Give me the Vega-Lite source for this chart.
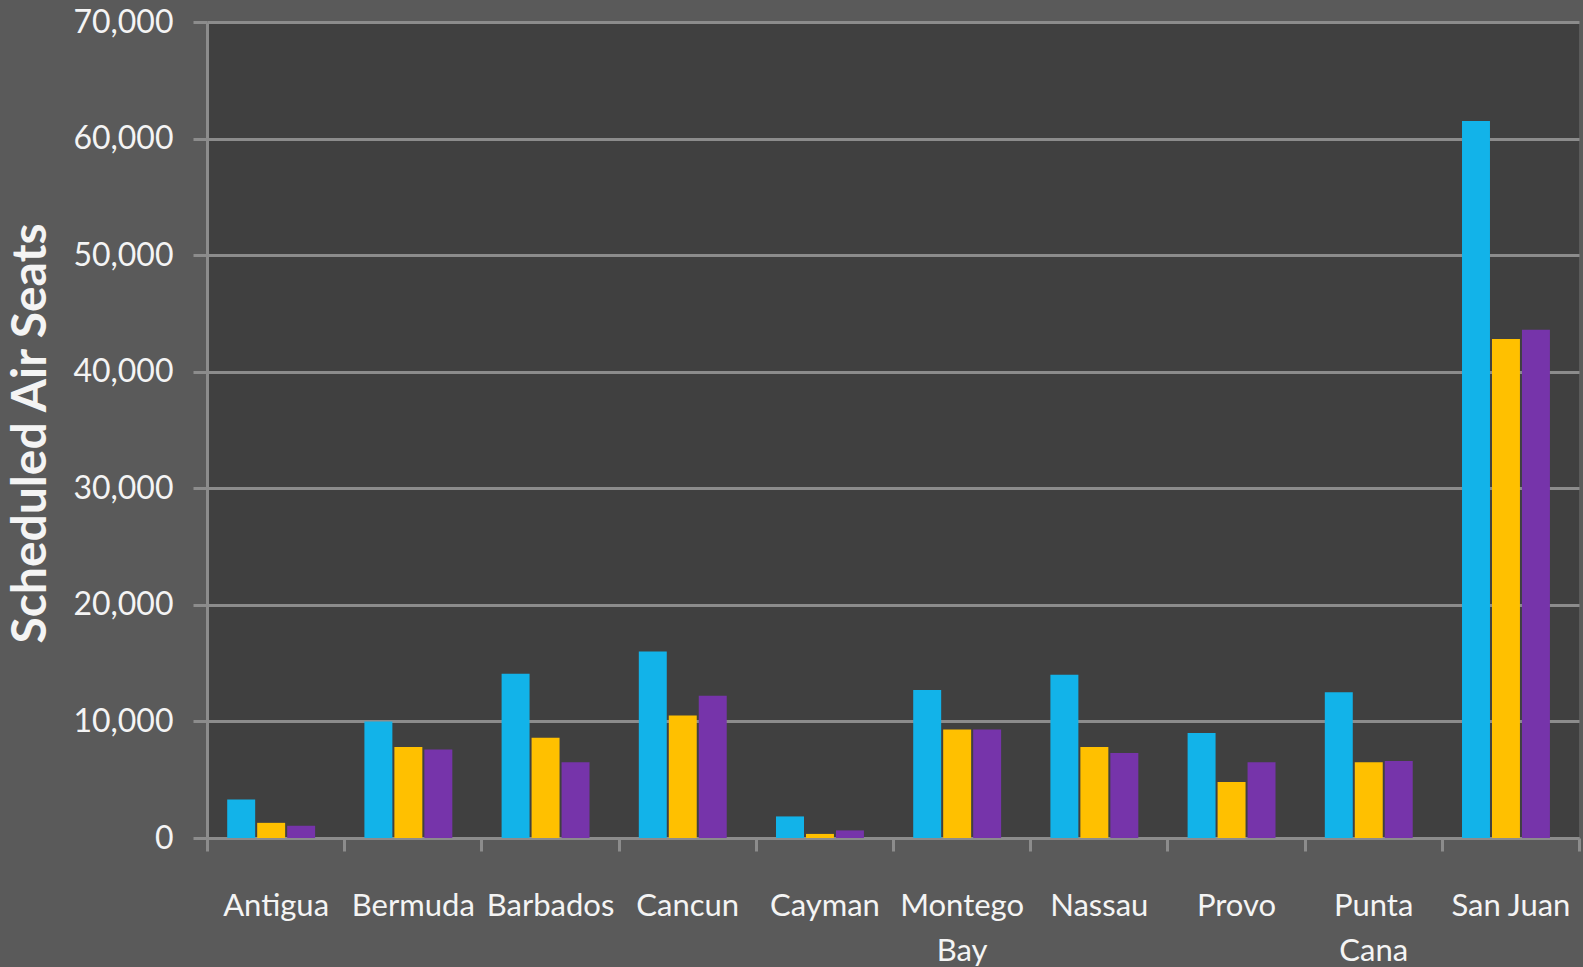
{
  "$schema": "https://vega.github.io/schema/vega-lite/v6.json",
  "width": 1372,
  "height": 816,
  "autosize": {"type": "none"},
  "padding": {"left": 207, "top": 22, "right": 4, "bottom": 129},
  "background": "#5a5a5a",
  "data": {
    "values": [
      {"city": "Antigua", "series": "Series 1", "seats": 3300},
      {"city": "Antigua", "series": "Series 2", "seats": 1300},
      {"city": "Antigua", "series": "Series 3", "seats": 1050},
      {"city": "Bermuda", "series": "Series 1", "seats": 10000},
      {"city": "Bermuda", "series": "Series 2", "seats": 7800},
      {"city": "Bermuda", "series": "Series 3", "seats": 7600},
      {"city": "Barbados", "series": "Series 1", "seats": 14100},
      {"city": "Barbados", "series": "Series 2", "seats": 8600},
      {"city": "Barbados", "series": "Series 3", "seats": 6500},
      {"city": "Cancun", "series": "Series 1", "seats": 16000},
      {"city": "Cancun", "series": "Series 2", "seats": 10500},
      {"city": "Cancun", "series": "Series 3", "seats": 12200},
      {"city": "Cayman", "series": "Series 1", "seats": 1850},
      {"city": "Cayman", "series": "Series 2", "seats": 350},
      {"city": "Cayman", "series": "Series 3", "seats": 650},
      {"city": "Montego Bay", "series": "Series 1", "seats": 12700},
      {"city": "Montego Bay", "series": "Series 2", "seats": 9300},
      {"city": "Montego Bay", "series": "Series 3", "seats": 9300},
      {"city": "Nassau", "series": "Series 1", "seats": 14000},
      {"city": "Nassau", "series": "Series 2", "seats": 7800},
      {"city": "Nassau", "series": "Series 3", "seats": 7300},
      {"city": "Provo", "series": "Series 1", "seats": 9000},
      {"city": "Provo", "series": "Series 2", "seats": 4800},
      {"city": "Provo", "series": "Series 3", "seats": 6500},
      {"city": "Punta Cana", "series": "Series 1", "seats": 12500},
      {"city": "Punta Cana", "series": "Series 2", "seats": 6500},
      {"city": "Punta Cana", "series": "Series 3", "seats": 6600},
      {"city": "San Juan", "series": "Series 1", "seats": 61500},
      {"city": "San Juan", "series": "Series 2", "seats": 42800},
      {"city": "San Juan", "series": "Series 3", "seats": 43600}
    ]
  },
  "config": {
    "view": {"fill": "#404040", "stroke": null},
    "font": "Lato"
  },
  "mark": {"type": "bar"},
  "encoding": {
    "x": {
      "field": "city",
      "type": "nominal",
      "sort": null,
      "scale": {"paddingInner": 0, "paddingOuter": 0},
      "axis": {
        "title": null,
        "labelAngle": 0,
        "labelFont": "Lato",
        "labelFontSize": 31,
        "labelColor": "#f4f4f4",
        "labelBaseline": "top",
        "labelLineHeight": 45,
        "labelPadding": 40,
        "labelExpr": "datum.label == 'Montego Bay' ? ['Montego', 'Bay'] : datum.label == 'Punta Cana' ? ['Punta', 'Cana'] : datum.label",
        "tickBand": "extent",
        "tickSize": 13,
        "tickColor": "#8c8c8c",
        "tickWidth": 3,
        "domainColor": "#8c8c8c",
        "domainWidth": 3,
        "grid": false
      }
    },
    "xOffset": {
      "field": "series",
      "type": "nominal",
      "scale": {"paddingInner": 0.067, "paddingOuter": 0.822, "align": 0.41}
    },
    "y": {
      "field": "seats",
      "type": "quantitative",
      "scale": {"domain": [0, 70000], "nice": false},
      "axis": {
        "title": "Scheduled Air Seats",
        "titleFont": "Lato",
        "titleFontSize": 48,
        "titleFontWeight": "bold",
        "titleColor": "#f4f4f4",
        "titleAngle": -90,
        "titleAnchor": "middle",
        "titleBaseline": "alphabetic",
        "titleX": -162,
        "titleY": 411,
        "values": [0, 10000, 20000, 30000, 40000, 50000, 60000, 70000],
        "format": ",d",
        "labelFont": "Lato",
        "labelFontSize": 32,
        "labelColor": "#f4f4f4",
        "labelPadding": 20,
        "tickSize": 14,
        "tickColor": "#8c8c8c",
        "tickWidth": 3,
        "domainColor": "#8c8c8c",
        "domainWidth": 3,
        "grid": true,
        "gridColor": "#8c8c8c",
        "gridWidth": 3
      }
    },
    "color": {
      "field": "series",
      "type": "nominal",
      "scale": {"domain": ["Series 1", "Series 2", "Series 3"], "range": ["#12b3e9", "#ffc000", "#7634aa"]},
      "legend": null
    }
  }
}
